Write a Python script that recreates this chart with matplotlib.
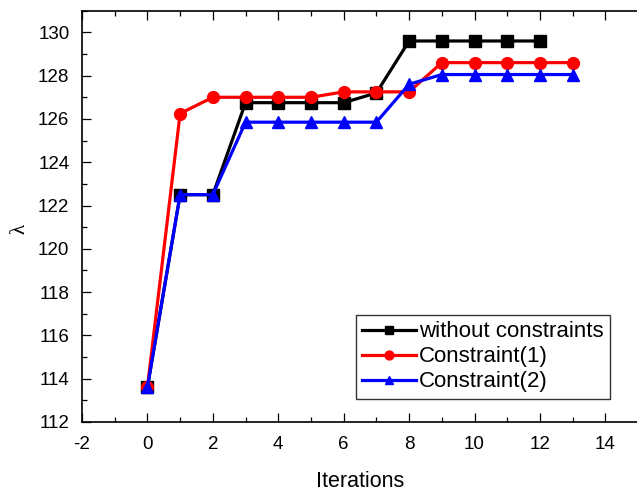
import matplotlib
matplotlib.use('Agg')
import matplotlib.pyplot as plt
from matplotlib.ticker import MultipleLocator

plt.rcParams['font.family'] = ['Liberation Sans', 'DejaVu Sans']
plt.rcParams['axes.unicode_minus'] = False

# data
it_free = list(range(13))
lam_free = [113.6, 122.5, 122.5, 126.75, 126.75, 126.75, 126.75, 127.2, 129.6,
            129.6, 129.6, 129.6, 129.6]
it_c1 = list(range(14))
lam_c1 = [113.6, 126.25, 127.0, 127.0, 127.0, 127.0, 127.25, 127.25, 127.25,
          128.6, 128.6, 128.6, 128.6, 128.6]
it_c2 = list(range(14))
lam_c2 = [113.6, 122.5, 122.5, 125.85, 125.85, 125.85, 125.85, 125.85, 127.6,
          128.05, 128.05, 128.05, 128.05, 128.05]
labels = ['without constraints', 'Constraint(1)', 'Constraint(2)']

fig = plt.figure(figsize=(6.37, 4.92), dpi=100)
ax = fig.add_axes([0.1287, 0.1423, 0.873, 0.836])

ax.plot(it_free, lam_free, '-s', color='black', lw=2.3, ms=8, label=labels[0])
ax.plot(it_c1, lam_c1, '-o', color='#ff0000', lw=2.3, ms=8.5, label=labels[1])
ax.plot(it_c2, lam_c2, '-^', color='#0000ff', lw=2.3, ms=8.5, label=labels[2])

ax.set_xlim(-2, 15)
ax.set_ylim(112, 131)
ax.xaxis.set_major_locator(MultipleLocator(2))
ax.xaxis.set_minor_locator(MultipleLocator(1))
ax.yaxis.set_major_locator(MultipleLocator(2))
ax.yaxis.set_minor_locator(MultipleLocator(1))
ax.tick_params(which='both', direction='in', top=True, right=False,
               labelsize=13.5, pad=9, width=0.9)
ax.tick_params(axis='x', which='both', pad=10)
ax.tick_params(which='major', length=6.5)
ax.tick_params(which='minor', length=3.8)
ax.spines['right'].set_visible(False)
for s in ('left', 'bottom', 'top'):
    ax.spines[s].set_linewidth(1.2)

ax.set_xlabel('Iterations', fontsize=15.5, labelpad=13)
ax.set_ylabel('λ', fontsize=15, family=['Liberation Serif', 'DejaVu Serif'])
ax.yaxis.set_label_coords(-0.095, 0.47)

leg = ax.legend(loc='lower right', bbox_to_anchor=(0.95, 0.056), fontsize=16,
                fancybox=False, edgecolor='#333333', framealpha=1,
                handlelength=2.4, handletextpad=0.15, borderpad=0.3,
                labelspacing=0.18, borderaxespad=0, markerscale=0.75)
leg.get_frame().set_linewidth(1.0)

fig.savefig('out.png', dpi=100)
